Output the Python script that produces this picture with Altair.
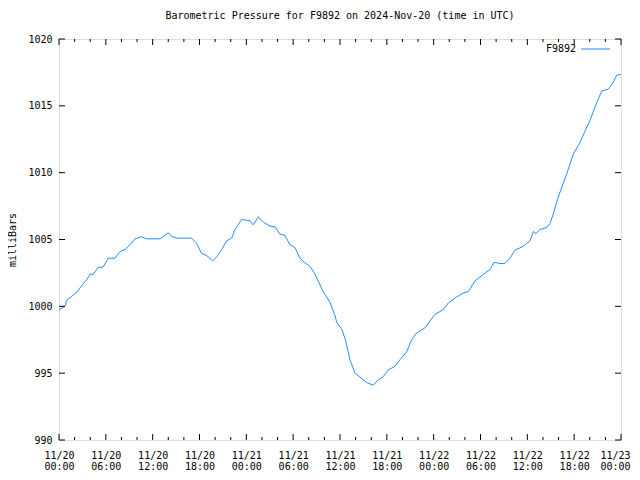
import json
import altair as alt
import pandas as pd

# ---- data ----
hours = [0.0, 0.77, 0.99, 1.63, 2.27, 2.91, 3.55, 3.97, 4.39, 5.03, 5.67, 6.31, 7.17, 7.81,
         8.45, 9.10, 9.74, 10.59, 11.23, 12.94, 14.0, 14.44, 15.08, 17.0, 17.64, 18.28,
         18.92, 19.69, 20.2, 20.84, 21.48, 22.12, 22.55, 23.4, 24.47, 24.89, 25.53, 26.17,
         27.03, 27.67, 28.31, 28.95, 29.59, 30.23, 30.87, 31.51, 32.15, 32.80, 33.44, 33.86,
         34.72, 35.36, 35.58, 36.26, 36.69, 37.28, 37.92, 38.56, 39.42, 40.26, 40.9, 41.55,
         42.19, 43.04, 43.68, 44.54, 45.18, 45.82, 46.89, 47.53, 48.17, 49.23, 49.87, 50.95,
         51.79, 52.43, 53.29, 54.15, 55.21, 55.76, 56.5, 57.14, 57.78, 58.42, 59.48, 60.34,
         60.77, 61.1, 61.62, 62.48, 62.9, 63.32, 63.86, 64.6, 65.25, 65.89, 66.74, 67.38,
         68.03, 68.66, 69.52, 70.37, 71.0, 71.45, 72.0]
pressure = [999.75, 1000.0, 1000.45, 1000.75, 1001.05, 1001.55, 1002.0, 1002.4, 1002.4, 1002.9,
            1002.95, 1003.6, 1003.6, 1004.1, 1004.25, 1004.6, 1005.05, 1005.2, 1005.05, 1005.05,
            1005.5, 1005.25, 1005.1, 1005.1, 1004.7, 1003.95, 1003.8, 1003.4, 1003.7, 1004.25,
            1004.9, 1005.1, 1005.75, 1006.5, 1006.4, 1006.1, 1006.7, 1006.3, 1006.0, 1005.95,
            1005.4, 1005.3, 1004.6, 1004.4, 1003.6, 1003.25, 1003.0, 1002.4, 1001.6, 1001.1,
            1000.3, 999.3, 998.8, 998.25, 997.5, 996.0, 995.0, 994.7, 994.3, 994.1, 994.5,
            994.75, 995.25, 995.5, 996.0, 996.6, 997.5, 998.0, 998.4, 998.9, 999.4, 999.75,
            1000.25, 1000.7, 1001.0, 1001.1, 1001.9, 1002.3, 1002.75, 1003.3, 1003.2, 1003.2,
            1003.6, 1004.2, 1004.5, 1004.9, 1005.6, 1005.45, 1005.75, 1005.9, 1006.2, 1006.9,
            1008.0, 1009.2, 1010.25, 1011.4, 1012.25, 1013.1, 1013.9, 1014.9, 1016.1, 1016.25,
            1016.75, 1017.3, 1017.35]

tick_hours = [0, 6, 12, 18, 24, 30, 36, 42, 48, 54, 60, 66, 72]
tick_dates = ["11/20", "11/20", "11/20", "11/20", "11/21", "11/21", "11/21", "11/21",
              "11/22", "11/22", "11/22", "11/22", "11/23"]
tick_times = ["00:00", "06:00", "12:00", "18:00", "00:00", "06:00", "12:00", "18:00",
              "00:00", "06:00", "12:00", "18:00", "00:00"]
minor_hours = [h for h in range(0, 73, 2) if h % 6 != 0]
y_ticks = [990, 995, 1000, 1005, 1010, 1015, 1020]

series_name = "F9892"
title = "Barometric Pressure for F9892 on 2024-Nov-20 (time in UTC)"
y_title = "milliBars"

W, H = 562, 401
FONT = "DejaVu Sans Mono"
COLOR = "#1E90FF"

df = pd.DataFrame({"hour": hours, "pressure": pressure})
major_df = pd.DataFrame({"hour": tick_hours})
minor_df = pd.DataFrame({"hour": minor_hours})
ytick_df = pd.DataFrame({"pressure": y_ticks})

xscale = alt.Scale(domain=[0, 72], nice=False, zero=False)
yscale = alt.Scale(domain=[990, 1020], nice=False, zero=False)

label_expr = ("[" + json.dumps(tick_dates) + "[round(datum.value/6)], "
              + json.dumps(tick_times) + "[round(datum.value/6)]]")

xaxis = alt.Axis(values=tick_hours, labelExpr=label_expr, title=None,
                 ticks=False, domain=False, grid=False, labelPadding=10,
                 labelLineHeight=11, labelFont=FONT, labelFontSize=10,
                 labelColor="black", labelFlush=False,
                 labelOffset={"condition": {"test": "datum.value >= 72", "value": -6},
                              "value": 0})
yaxis = alt.Axis(values=y_ticks, format="d", title=y_title, ticks=False, domain=False,
                 grid=False, labelPadding=7, labelFont=FONT, labelFontSize=10,
                 labelColor="black", titleFont=FONT, titleFontSize=10,
                 titleFontWeight="normal", titleColor="black", titlePadding=10)

line = alt.Chart(df).mark_line(color=COLOR, strokeWidth=1, interpolate="linear").encode(
    x=alt.X("hour:Q", scale=xscale, axis=xaxis),
    y=alt.Y("pressure:Q", scale=yscale, axis=yaxis),
)

def xticks(data, length):
    top = alt.Chart(data).mark_rule(color="black", strokeWidth=1).encode(
        x=alt.X("hour:Q", scale=xscale, axis=xaxis),
        y=alt.value(0), y2=alt.value(length))
    bot = alt.Chart(data).mark_rule(color="black", strokeWidth=1).encode(
        x=alt.X("hour:Q", scale=xscale, axis=xaxis),
        y=alt.value(H), y2=alt.value(H - length))
    return top + bot

left_t = alt.Chart(ytick_df).mark_rule(color="black", strokeWidth=1).encode(
    y=alt.Y("pressure:Q", scale=yscale, axis=yaxis), x=alt.value(0), x2=alt.value(6))
right_t = alt.Chart(ytick_df).mark_rule(color="black", strokeWidth=1).encode(
    y=alt.Y("pressure:Q", scale=yscale, axis=yaxis), x=alt.value(W), x2=alt.value(W - 6))

leg_df = pd.DataFrame({"name": [series_name]})
leg_text = alt.Chart(leg_df).mark_text(align="right", baseline="middle", font=FONT,
                                        fontSize=10, color="black").encode(
    text="name:N", x=alt.value(517), y=alt.value(10))
leg_line = alt.Chart(leg_df).mark_rule(color=COLOR, strokeWidth=1).encode(
    x=alt.value(522), x2=alt.value(551), y=alt.value(10))

chart = alt.layer(
    line, xticks(major_df, 6), xticks(minor_df, 3), left_t, right_t, leg_text, leg_line
).properties(
    width=W, height=H,
    title=alt.TitleParams(title, font=FONT, fontSize=10, fontWeight="normal",
                          color="black", anchor="middle", offset=13),
    autosize=alt.AutoSizeParams(type="none"),
    padding={"left": 51, "top": 31, "right": 10, "bottom": 32},
).configure_view(stroke="black", strokeWidth=1).configure(background="white")

chart.save("out.html", embed_options={"renderer": "svg", "actions": False})
